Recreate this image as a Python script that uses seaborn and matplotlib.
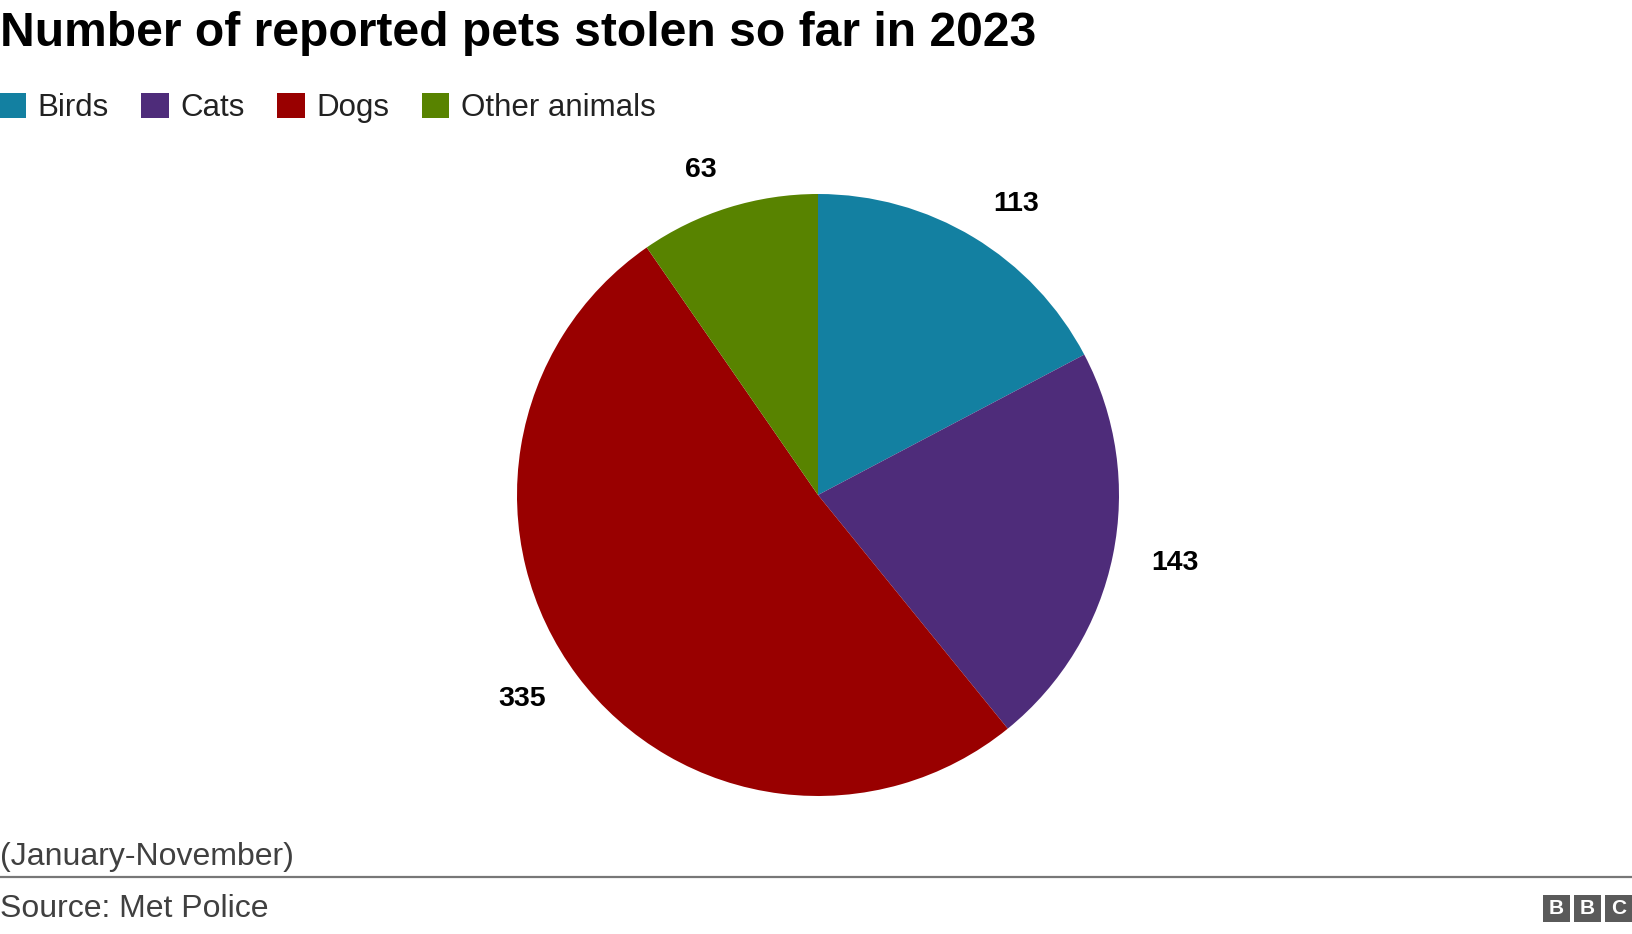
import matplotlib
matplotlib.use("Agg")
import matplotlib.pyplot as plt
import seaborn as sns
from matplotlib.patches import Rectangle
from matplotlib.lines import Line2D

categories = ["Birds", "Cats", "Dogs", "Other animals"]
values = [113, 143, 335, 63]
value_labels = ["113", "143", "335", "63"]
colors = ["#1380A1", "#4E2C7A", "#990000", "#588300"]

title = "Number of reported pets stolen so far in 2023"
note = "(January-November)"
source = "Source: Met Police"

sns.set_theme(style="white")
plt.rcParams["font.family"] = ["Liberation Sans", "DejaVu Sans"]

W, H = 1632, 934
fig = plt.figure(figsize=(W / 100, H / 100), dpi=100)
fig.patch.set_facecolor("white")

# pie axes: centre (818, 495) px, radius 301 px
L = 1.4
S = 2 * L * 301
cx, cy = 818, H - 495
ax = fig.add_axes([(cx - S / 2) / W, (cy - S / 2) / H, S / W, S / H])
pal = sns.color_palette(colors)
wedges, texts = ax.pie(
    values, colors=pal, labels=value_labels, startangle=90, counterclock=False,
    radius=1, labeldistance=1.13,
    wedgeprops=dict(linewidth=0, edgecolor="none"),
    textprops=dict(fontsize=20.5, fontweight="bold", color="#000000"),
)
ax.set_xlim(-L, L)
ax.set_ylim(-L, L)
ax.set_aspect("equal")
ax.axis("off")

fig.text(0, 1 - 34 / H, title, fontsize=34.6, fontweight="bold", color="#000000",
         ha="left", va="center")

fig.legend(wedges, categories, loc="center left", bbox_to_anchor=(-0.001, 1 - 108 / H),
           ncol=4, frameon=False, fontsize=22.5, handlelength=0.88, handleheight=0.88,
           handletextpad=0.38, columnspacing=1.03, borderpad=0, borderaxespad=0,
           labelcolor="#222222")

fig.text(0, 1 - 857 / H, note, fontsize=23, color="#404040", ha="left", va="center")
fig.add_artist(Line2D([0, 1], [1 - 877 / H, 1 - 877 / H], transform=fig.transFigure,
                      color="#777777", linewidth=1.6))
fig.text(0, 1 - 909 / H, source, fontsize=23, color="#404040", ha="left", va="center")

# BBC logo
bx0, by_top, bs, gap = 1543, 895, 27, 4
for i, letter in enumerate("BBC"):
    x = bx0 + i * (bs + gap)
    fig.add_artist(Rectangle((x / W, 1 - (by_top + bs) / H), bs / W, bs / H,
                             transform=fig.transFigure, facecolor="#5a5a5a",
                             edgecolor="none"))
    fig.text((x + bs / 2) / W, 1 - (by_top + bs / 2) / H, letter, fontsize=15,
             fontweight="bold", color="white", ha="center", va="center")

fig.savefig("out.png", dpi=100, facecolor="white")
